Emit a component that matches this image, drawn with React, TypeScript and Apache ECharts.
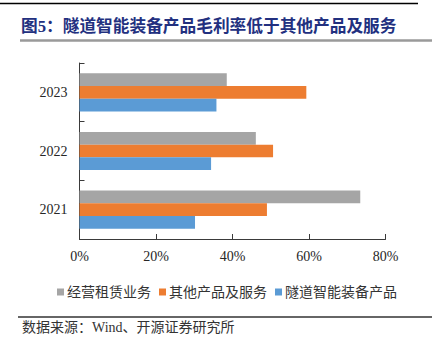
import React, { useEffect, useRef } from "react";
import * as echarts from "echarts";

const categories = ["2021", "2022", "2023"];
const seriesNames = ["经营租赁业务", "其他产品及服务", "隧道智能装备产品"];
const leasing = [73.4, 46.1, 38.5];
const otherProducts = [49.0, 50.6, 59.3];
const tunnelEquipment = [30.2, 34.4, 35.8];
const xTicks = { min: 0, max: 80, interval: 20 };
const colors = ["#A5A5A5", "#ED7D31", "#5B9BD5"];

const TITLE = "图5：隧道智能装备产品毛利率低于其他产品及服务";
const SOURCE = "数据来源：Wind、开源证券研究所";
const SERIF = "'Liberation Serif', 'Noto Sans CJK SC', serif";

export default function App() {
  const ref = useRef<HTMLDivElement>(null);
  useEffect(() => {
    if (!ref.current) return;
    const chart = echarts.init(ref.current, null, { renderer: "svg" });
    const values = [leasing, otherProducts, tunnelEquipment];
    chart.setOption({
      animation: false,
      backgroundColor: "#ffffff",
      grid: { left: 79.5, right: 46.5, top: 63, bottom: 107, containLabel: false },
      legend: {
        data: seriesNames,
        left: 52,
        top: 280,
        itemWidth: 7,
        itemHeight: 7,
        itemGap: 8,
        icon: "rect",
        textStyle: { fontSize: 14, color: "#333", fontFamily: SERIF, padding: [0, 0, 0, -2] },
      },
      xAxis: {
        type: "value",
        min: xTicks.min,
        max: xTicks.max,
        interval: xTicks.interval,
        axisLine: { show: true, lineStyle: { color: "#3a3a3a", width: 1 } },
        axisTick: { show: true, inside: true, length: 5, lineStyle: { color: "#3a3a3a" } },
        splitLine: { show: false },
        axisLabel: { formatter: "{value}%", fontSize: 14, color: "#262626", fontFamily: SERIF, margin: 10 },
      },
      yAxis: {
        type: "category",
        data: categories,
        axisLine: { show: true, lineStyle: { color: "#3a3a3a", width: 1 } },
        axisTick: { show: true, inside: true, length: 5, lineStyle: { color: "#3a3a3a" } },
        axisLabel: { fontSize: 14, color: "#262626", fontFamily: SERIF, margin: 12 },
      },
      series: [0, 1, 2].map((i) => ({
        name: seriesNames[i],
        type: "bar",
        data: values[i],
        itemStyle: { color: colors[i] },
        barGap: "0%",
        barCategoryGap: "35%",
      })),
      graphic: [
        { type: "line", shape: { x1: 0, y1: 3.5, x2: 418, y2: 3.5 }, style: { stroke: "#000", lineWidth: 1.5 } },
        {
          type: "text",
          left: 21,
          top: 18,
          style: { text: TITLE, fontSize: 16.7, fontWeight: "bold", fill: "#22307f", fontFamily: SERIF },
        },
        { type: "line", shape: { x1: 20, y1: 40.5, x2: 432, y2: 40.5 }, style: { stroke: "#9a9a9a", lineWidth: 2.5 } },
        { type: "line", shape: { x1: 18, y1: 317, x2: 432, y2: 317 }, style: { stroke: "#333", lineWidth: 1.3 } },
        {
          type: "text",
          left: 22,
          top: 320,
          style: { text: SOURCE, fontSize: 14, fill: "#333", fontFamily: SERIF },
        },
      ],
    });
    return () => chart.dispose();
  }, []);
  return <div ref={ref} style={{ width: 432, height: 346, position: "absolute", left: 0, top: 0 }} />;
}
